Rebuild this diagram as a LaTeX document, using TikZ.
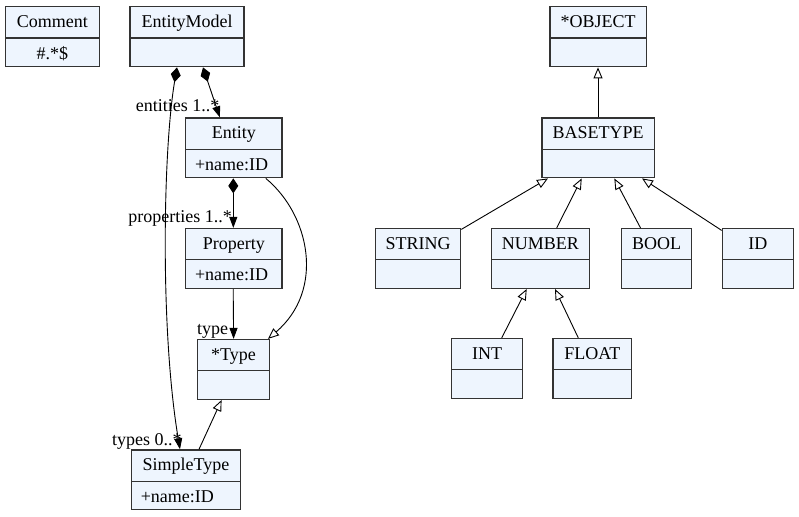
\documentclass[tikz,border=0pt]{standalone}
\usepackage{fontspec}
\setmainfont{Liberation Serif}
\usetikzlibrary{shapes.multipart,arrows.meta}
\definecolor{clsfill}{HTML}{EEF5FE}
\newcommand{\cstrut}{\rule[-10pt]{0pt}{30pt}}
\newcommand{\bstrut}{\rule[-7pt]{0pt}{27.5pt}}
\newcommand{\attr}[1]{\hspace*{9.5pt}#1\hfill\bstrut}
\begin{document}
\begin{tikzpicture}[
        x=1pt, y=-1pt,
        cls/.style={draw=black!80, line width=1.2pt, fill=clsfill, rectangle split, rectangle split parts=2,
            inner sep=0pt, text width=#1, align=center, anchor=north, font=\fontsize{18}{20}\selectfont},
        lbl/.style={inner sep=0pt, font=\fontsize{18}{20}\selectfont},
        comp/.style={{Diamond[length=15pt,width=10pt]}-{Triangle[length=11pt,width=8pt]}, line width=0.9pt},
        ar/.style={-{Triangle[length=11pt,width=8pt]}, line width=0.9pt},
        gen/.style={-{Triangle[open,length=11pt,width=9pt]}, line width=0.9pt},
    ]
    \useasboundingbox (0,0) rectangle (799,516);

    \node[cls=94pt](comment) at (52.3,6.3) {Comment\cstrut\nodepart{two}\#.*\$\bstrut};
    \node[cls=114pt](em) at (187,6.3) {EntityModel\cstrut\nodepart{two}\bstrut};
    \node[cls=96.5pt](ent) at (233.8,117.3) {Entity\cstrut\nodepart{two}\attr{+name:ID}};
    \node[cls=96.5pt](prop) at (233.8,227.9) {Property\cstrut\nodepart{two}\attr{+name:ID}};
    \node[cls=71.5pt](type) at (233.6,338.9) {*Type\cstrut\nodepart{two}\bstrut};
    \node[cls=109.4pt](st) at (186,449.3) {SimpleType\cstrut\nodepart{two}\attr{+name:ID}};

    \node[cls=96.2pt](obj) at (598,6.3) {*OBJECT\cstrut\nodepart{two}\bstrut};
    \node[cls=112.2pt](bt) at (598,117.3) {BASETYPE\cstrut\nodepart{two}\bstrut};
    \node[cls=85.4pt](str) at (418,227.9) {STRING\cstrut\nodepart{two}\bstrut};
    \node[cls=98.1pt](num) at (540.3,227.9) {NUMBER\cstrut\nodepart{two}\bstrut};
    \node[cls=70.4pt](bool) at (656.5,227.9) {BOOL\cstrut\nodepart{two}\bstrut};
    \node[cls=71.1pt](id) at (757.8,227.9) {ID\cstrut\nodepart{two}\bstrut};
    \node[cls=71.1pt](int) at (487.2,337.9) {INT\cstrut\nodepart{two}\bstrut};
    \node[cls=78.8pt](flt) at (592.3,337.9) {FLOAT\cstrut\nodepart{two}\bstrut};

    \path[comp]
    ([xshift=16pt]em.south) edge node[lbl, at end, anchor=base east, yshift=6pt] {entities 1..*} ([xshift=-14pt]ent.north)
    ([xshift=-0.5pt]ent.south) edge node[lbl, at end, anchor=base east, yshift=5pt, xshift=-1pt] {properties 1..*} ([xshift=-0.5pt]prop.north)
    ;
    \draw[comp] ([xshift=-10pt]em.south) .. controls (163,150) and (160,330) .. ([xshift=-6pt]st.north)
        node[lbl, pos=1, anchor=base east, yshift=4pt, xshift=2pt] {types 0..*};
    \path[ar]
    ([xshift=-0.6pt]prop.south) edge node[lbl, at end, anchor=base east, yshift=4.7pt, xshift=-5pt] {type} (type.north)
    ;
    \draw[gen] ([xshift=32pt]ent.south) .. controls (310,215) and (325,290) .. ([xshift=-2pt]type.north east);

    \path[gen]
    ([xshift=13pt]st.north) edge ([xshift=-12pt]type.south)
    (bt.north) edge (obj.south)
    ([yshift=-1.5pt]str.north east) edge ([xshift=-50pt]bt.south)
    ([xshift=16.4pt]num.north) edge ([xshift=-16.3pt]bt.south)
    ([xshift=-16pt]bool.north) edge ([xshift=16.3pt]bt.south)
    ([yshift=-2.5pt]id.north west) edge ([xshift=44pt]bt.south)
    ([xshift=14.5pt]int.north) edge ([xshift=-13.6pt]num.south)
    ([xshift=-14pt]flt.north) edge ([xshift=14.7pt]num.south)
    ;
\end{tikzpicture}
\end{document}
